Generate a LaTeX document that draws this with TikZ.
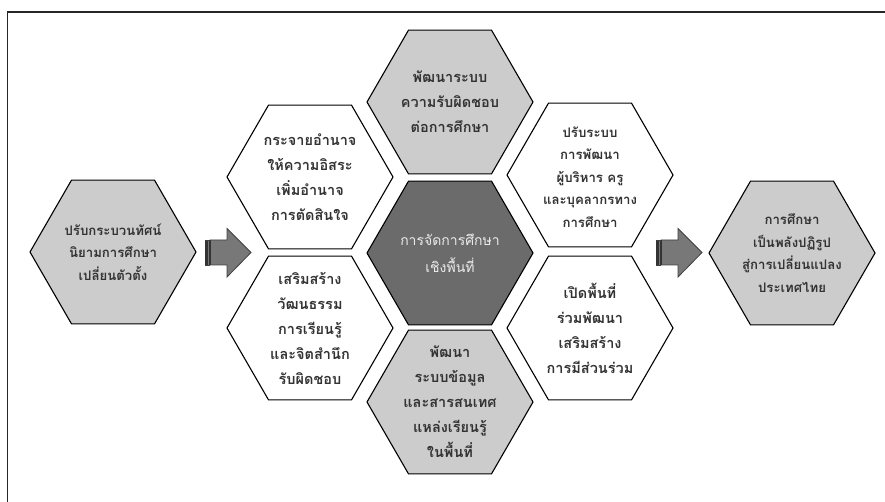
\documentclass[tikz,border=0pt]{standalone}
\usepackage{fontspec}
\setmainfont{Liberation Sans}
\newfontfamily\thai[Script=Thai]{Loma}
\usetikzlibrary{shapes.geometric}
\definecolor{hexgray}{gray}{0.80}
\definecolor{hexdark}{gray}{0.42}
\definecolor{arrowgray}{gray}{0.47}
\definecolor{txtgray}{gray}{0.2}
\begin{document}
\begin{tikzpicture}[x=1pt,y=-1pt,
  hex/.style={regular polygon, regular polygon sides=6, minimum size=166pt, inner sep=0pt, draw=black, line width=1.1pt},
  hexw/.style={hex, fill=white},
  hexg/.style={hex, fill=hexgray},
  hexd/.style={hex, fill=hexdark},
  txt/.style={align=center, inner sep=0pt, text=txtgray, font=\thai\bfseries\fontsize{14.5}{25}\selectfont},
  txts/.style={txt, font=\thai\bfseries\fontsize{13.2}{22.6}\selectfont},
  txtc/.style={align=center, inner sep=0pt, text=white!92!black, font=\thai\fontsize{14}{27}\selectfont},
  blockarrow/.style={fill=arrowgray, draw=black!75, line width=0.8pt},
  stripe/.style={fill=black!80, draw=none}]
\useasboundingbox (0,0) rectangle (885,502);
\draw[line width=1.3pt, black!85] (7.5,520) -- (7.5,12) -- (900,12);

% honeycomb
\node[hexg] (top) at (450,102) {};
\node[hexd] (mid) at (450,253) {};
\node[hexg] (bot) at (450,402) {};
\node[hexw] (ul) at (310,177) {};
\node[hexw] (ll) at (310,328) {};
\node[hexw] (ur) at (590,175) {};
\node[hexw] (lr) at (590,328) {};
\node[hexg] (lft) at (113,252) {};
\node[hexg] (rgt) at (792,253) {};

\node[txt] (toptxt) at (top) {พัฒนาระบบ\\ความรับผิดชอบ\\ต่อการศึกษา};
\node[txtc] (midtxt) at (mid) {การจัดการศึกษา\\เชิงพื้นที่};
\node[txt] (bottxt) at (bot) {พัฒนา\\ระบบข้อมูล\\และสารสนเทศ\\แหล่งเรียนรู้\\ในพื้นที่};
\node[txt] (ultxt) at (ul) {กระจายอำนาจ\\ให้ความอิสระ\\เพิ่มอำนาจ\\การตัดสินใจ};
\node[txt] (lltxt) at (ll) {เสริมสร้าง\\วัฒนธรรม\\การเรียนรู้\\และจิตสำนึก\\รับผิดชอบ};
\node[txts] (urtxt) at ([yshift=-2pt]ur) {ปรับระบบ\\การพัฒนา\\ผู้บริหาร ครู\\และบุคลากรทาง\\การศึกษา};
\node[txt] (lrtxt) at (lr) {เปิดพื้นที่\\ร่วมพัฒนา\\เสริมสร้าง\\การมีส่วนร่วม};
\node[txts] (lfttxt) at (lft) {ปรับกระบวนทัศน์\\นิยามการศึกษา\\เปลี่ยนตัวตั้ง};
\node[txts] (rgttxt) at (rgt) {การศึกษา\\เป็นพลังปฏิรูป\\สู่การเปลี่ยนแปลง\\ประเทศไทย};

% block arrows
\foreach \x in {205,656}{
  \draw[blockarrow] (\x+5,240) -- (\x+22,240) -- (\x+22,228.5) -- (\x+46,252.5)
     -- (\x+22,277) -- (\x+22,265) -- (\x+5,265) -- cycle;
  \fill[black!80] (\x,240) rectangle (\x+2.5,265);
  \fill[arrowgray] (\x+2.5,240) rectangle (\x+3.5,265);
  \fill[black!80] (\x+3.5,240) rectangle (\x+5.5,265);
  \draw[black!75, line width=0.8pt] (\x,240) -- (\x+5,240) (\x,265) -- (\x+5,265);
}
\end{tikzpicture}
\end{document}
